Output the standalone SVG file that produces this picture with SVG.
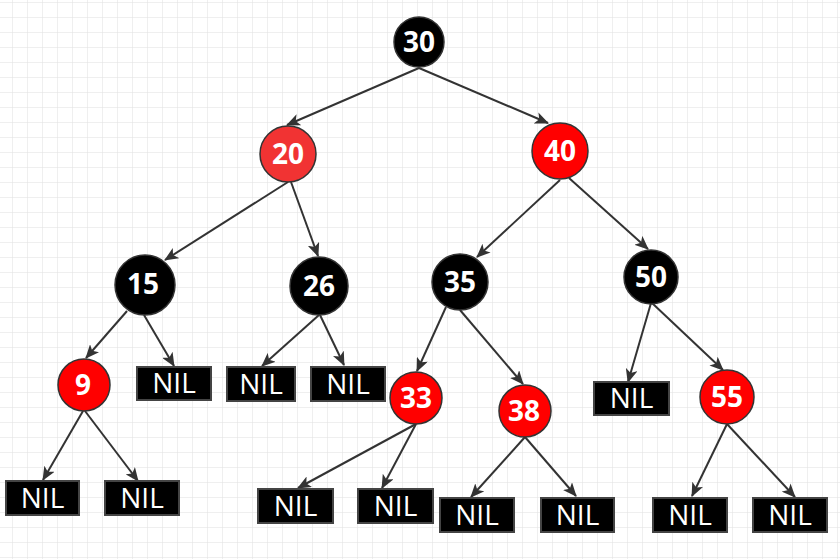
<svg xmlns="http://www.w3.org/2000/svg" width="840" height="559" viewBox="0 0 840 559">
<defs>
<pattern id="grid" patternUnits="userSpaceOnUse" x="12" y="2" width="15" height="15">
<path d="M0,0 H15 M0,0 V15" stroke="#e0e0e0" stroke-width="1" fill="none"/>
</pattern>
<marker id="arr" markerUnits="userSpaceOnUse" markerWidth="14" markerHeight="12" refX="13" refY="6" orient="auto">
<path d="M0,0 L14,6 L0,12 L3.5,6 z" fill="#333"/>
</marker>
<style>
.edge{stroke:#333;stroke-width:2;fill:none;marker-end:url(#arr)}
.blk{fill:#000;stroke:#333;stroke-width:1.5}
.red{fill:#ff0000;stroke:#333;stroke-width:1.5}
.red2{fill:#f13333;stroke:#333;stroke-width:1.5}
.nil{fill:#000;stroke:#444;stroke-width:2}
.num{font-family:"Open Sans","Noto Sans",sans-serif;font-weight:bold;font-size:28px;fill:#fff;text-anchor:middle}
.nt{font-family:"Open Sans","Noto Sans",sans-serif;font-size:28px;fill:#fff;text-anchor:middle}
</style>
</defs>
<rect width="840" height="559" fill="#fff"/>
<rect width="840" height="559" fill="url(#grid)"/>
<g id="connectors">
<line class="edge" x1="419" y1="68" x2="287" y2="125"/>
<line class="edge" x1="419" y1="68" x2="548" y2="123"/>
<line class="edge" x1="288" y1="182" x2="165" y2="260"/>
<line class="edge" x1="291" y1="182" x2="318" y2="256"/>
<line class="edge" x1="560" y1="180" x2="477" y2="257"/>
<line class="edge" x1="569" y1="178" x2="648" y2="249"/>
<line class="edge" x1="127" y1="311" x2="86" y2="358"/>
<line class="edge" x1="144" y1="315" x2="174" y2="366"/>
<line class="edge" x1="319" y1="315" x2="262" y2="366"/>
<line class="edge" x1="320" y1="315" x2="344" y2="365"/>
<line class="edge" x1="446" y1="307" x2="417" y2="371"/>
<line class="edge" x1="460" y1="310" x2="523" y2="384"/>
<line class="edge" x1="651" y1="303" x2="628" y2="382"/>
<line class="edge" x1="652" y1="303" x2="723" y2="370"/>
<line class="edge" x1="83" y1="411" x2="43" y2="480"/>
<line class="edge" x1="85" y1="411" x2="138" y2="481"/>
<line class="edge" x1="416" y1="424" x2="298" y2="488"/>
<line class="edge" x1="416" y1="424" x2="382" y2="488"/>
<line class="edge" x1="525" y1="437" x2="471" y2="497"/>
<line class="edge" x1="525" y1="437" x2="576" y2="496"/>
<line class="edge" x1="727" y1="424" x2="692" y2="496"/>
<line class="edge" x1="727" y1="424" x2="795" y2="497"/>
</g>
<g id="n30"><circle class="blk" cx="419" cy="42" r="25"/><text class="num" x="419" y="52">30</text></g>
<g id="n20"><circle class="red2" cx="288" cy="154" r="28"/><text class="num" x="288" y="164">20</text></g>
<g id="n40"><circle class="red" cx="560" cy="151" r="28"/><text class="num" x="560" y="161">40</text></g>
<g id="n15"><circle class="blk" cx="145" cy="285" r="30"/><text class="num" x="143" y="294">15</text></g>
<g id="n26"><circle class="blk" cx="319" cy="286" r="29"/><text class="num" x="319" y="296">26</text></g>
<g id="n35"><circle class="blk" cx="460" cy="282" r="28"/><text class="num" x="460" y="292">35</text></g>
<g id="n50"><circle class="blk" cx="651" cy="277" r="27"/><text class="num" x="651" y="287">50</text></g>
<g id="n9"><circle class="red" cx="84" cy="385" r="26"/><text class="num" x="83" y="395">9</text></g>
<g id="n33"><circle class="red" cx="416" cy="398" r="26"/><text class="num" x="416" y="408">33</text></g>
<g id="n38"><circle class="red" cx="525" cy="411" r="26"/><text class="num" x="524" y="421">38</text></g>
<g id="n55"><circle class="red" cx="727" cy="397" r="27"/><text class="num" x="727" y="407">55</text></g>
<g id="nil1"><rect class="nil" x="6" y="481" width="73" height="34"/><text class="nt" x="42.5" y="508">NIL</text></g>
<g id="nil2"><rect class="nil" x="105" y="481" width="74" height="34"/><text class="nt" x="142" y="508">NIL</text></g>
<g id="nil3"><rect class="nil" x="137" y="367" width="74" height="33"/><text class="nt" x="174" y="393">NIL</text></g>
<g id="nil4"><rect class="nil" x="227" y="367" width="68" height="34"/><text class="nt" x="261" y="394">NIL</text></g>
<g id="nil5"><rect class="nil" x="311" y="367" width="74" height="34"/><text class="nt" x="348" y="394">NIL</text></g>
<g id="nil6"><rect class="nil" x="594" y="382" width="75" height="33"/><text class="nt" x="631.5" y="408">NIL</text></g>
<g id="nil7"><rect class="nil" x="258" y="489" width="75" height="34"/><text class="nt" x="295.5" y="516">NIL</text></g>
<g id="nil8"><rect class="nil" x="358" y="489" width="75" height="34"/><text class="nt" x="395.5" y="516">NIL</text></g>
<g id="nil9"><rect class="nil" x="440" y="498" width="74" height="34"/><text class="nt" x="477" y="525">NIL</text></g>
<g id="nil10"><rect class="nil" x="541" y="498" width="73" height="34"/><text class="nt" x="577.5" y="525">NIL</text></g>
<g id="nil11"><rect class="nil" x="653" y="498" width="74" height="34"/><text class="nt" x="690" y="525">NIL</text></g>
<g id="nil12"><rect class="nil" x="753" y="498" width="74" height="34"/><text class="nt" x="790" y="525">NIL</text></g>
</svg>
